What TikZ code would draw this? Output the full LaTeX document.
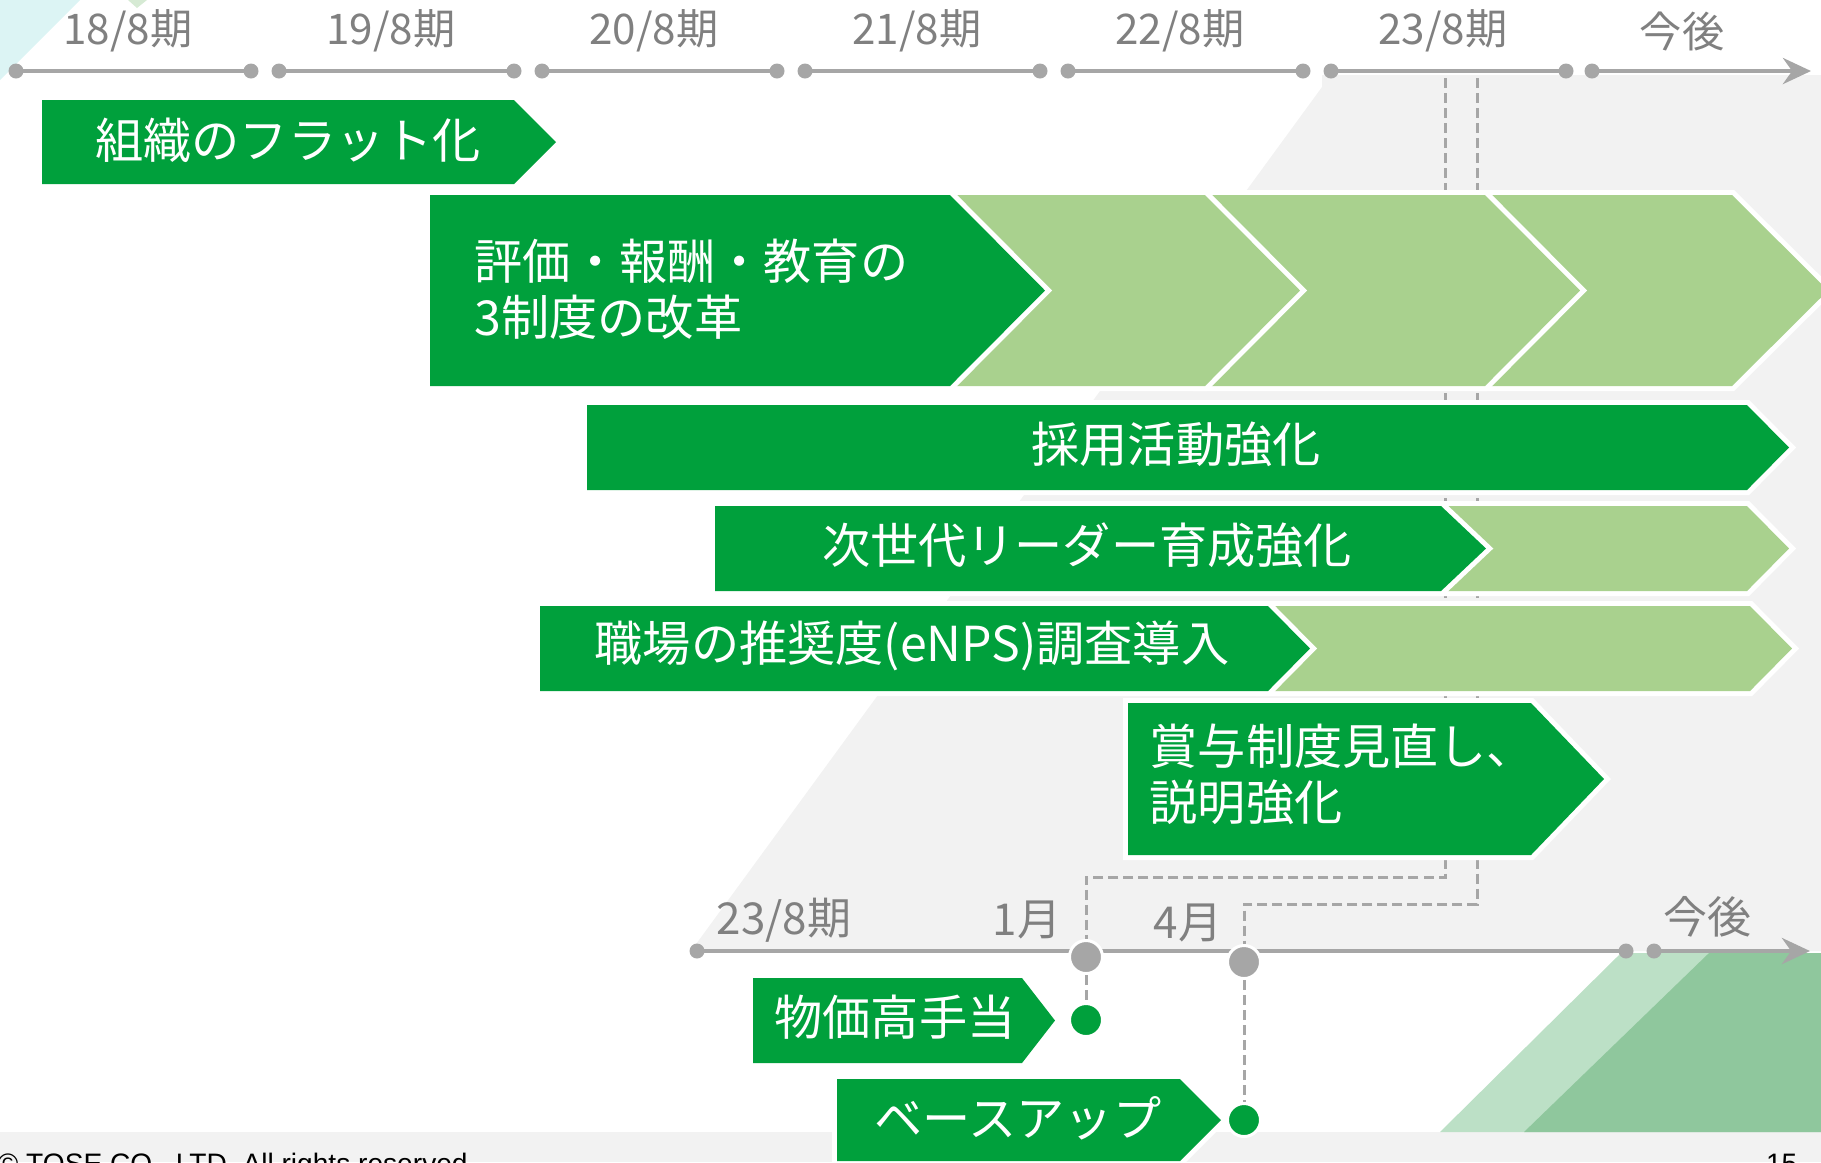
\documentclass[tikz,border=0pt]{standalone}
\usepackage{fontspec}
\setmainfont{Noto Sans CJK JP}
\newfontfamily\footfont{Liberation Sans}
\usepackage{tikz}
\usetikzlibrary{arrows.meta}

\definecolor{barGreen}{RGB}{0,160,60}
\definecolor{paleGreen}{RGB}{169,209,142}
\definecolor{bgGray}{RGB}{242,242,242}
\definecolor{lineGray}{RGB}{166,166,166}
\definecolor{textGray}{RGB}{128,128,128}
\definecolor{iceBlue}{RGB}{220,244,244}
\definecolor{mintGreen}{RGB}{188,224,198}
\definecolor{leafGreen}{RGB}{143,199,157}
\definecolor{sproutGreen}{RGB}{214,234,212}

\begin{document}
\begin{tikzpicture}[x=0.01cm,y=-0.01cm,
	dark bar/.style={fill=barGreen,preaction={draw=white,line width=0.1cm}},
	pale bar/.style={fill=paleGreen,preaction={draw=white,line width=0.1cm}},
	bar text/.style={text=white,font=\fontsize{13.7}{16}\selectfont,inner sep=0pt},
	axis line/.style={draw=lineGray,line width=0.045cm},
	axis label/.style={text=textGray,font=\fontsize{12}{14}\selectfont,inner sep=0pt},
	sub label/.style={text=textGray,font=\fontsize{12.5}{14}\selectfont,inner sep=0pt},
	guide line/.style={draw=lineGray,line width=0.03cm,dash pattern=on 0.1cm off 0.05cm},
	mile dot/.style={circle,fill=lineGray,draw=white,line width=0.03cm,minimum size=0.33cm,inner sep=0pt},
	end dot/.style={circle,fill=barGreen,draw=white,line width=0.03cm,minimum size=0.33cm,inner sep=0pt}]
	
	\useasboundingbox (0,0) rectangle (1821,1162);
	
	% background
	\fill[bgGray] (0,1132) rectangle (1821,1162);
	\fill[bgGray] (1322,75) -- (1821,75) -- (1821,951) -- (691,951) -- (1322,87) -- cycle;
	\fill[iceBlue] (0,0) -- (80,0) -- (0,80) -- cycle;
	\fill[sproutGreen] (128,0) -- (147,0) -- (137,8) -- cycle;
	\fill[mintGreen] (1621,953) -- (1821,953) -- (1821,1132) -- (1440,1132) -- cycle;
	\fill[leafGreen] (1709,953) -- (1821,953) -- (1821,1132) -- (1524,1132) -- cycle;
	
	% top time axis
	\foreach \i/\yr in {0/18,1/19,2/20,3/21,4/22,5/23}{
		\draw[axis line] (16+263*\i,71) -- (251+263*\i,71);
		\fill[lineGray] (16+263*\i,71) circle (7.5) (251+263*\i,71) circle (7.5);
		\node[axis label] (top\yr) at (128+263*\i,31) {\yr/8期};
	}
	\draw[axis line,-{Stealth[length=0.28cm,width=0.26cm]}] (1592,71) -- (1811,71);
	\fill[lineGray] (1592,71) circle (7.5);
	\node[axis label] (topnext) at (1682,31) {今後};
	
	% bottom time axis
	\draw[axis line] (697,951) -- (1626,951);
	\fill[lineGray] (697,951) circle (7.5) (1626,951) circle (7.5);
	\draw[axis line,-{Stealth[length=0.28cm,width=0.26cm]}] (1654,951) -- (1810,951);
	\fill[lineGray] (1654,951) circle (7.5);
	\node[sub label] (sub23) at (784,920) {23/8期};
	\node[sub label] (jan label) at (1027,920) {1月};
	\node[sub label] (apr label) at (1188,923) {4月};
	\node[sub label] (subnext) at (1707,917) {今後};
	
	\node[mile dot] (jan) at (1086,957) {};
	\node[mile dot] (apr) at (1244,962) {};
	\node[end dot] (allowance dot) at (1086,1020) {};
	\node[end dot] (baseup dot) at (1244,1120) {};
	
	% dashed guides from 23/8期
	\coordinate (split a) at (1445,78);
	\coordinate (split b) at (1477,78);
	\coordinate (bend a) at (1445,877);
	\coordinate (bend b) at (1477,904);
	\draw[guide line] (split a) -- (bend a) -| (jan);
	\draw[guide line] (split b) -- (bend b) -| (apr);
	\draw[guide line] (jan) -- (allowance dot);
	\draw[guide line] (apr) -- (baseup dot);
	
	% measures
	\path[dark bar] (42,100) -- (514,100) -- (556,142) -- (514,184) -- (42,184) -- cycle;
	\node[bar text] (flat) at (288,140) {組織のフラット化};
	
	\path[pale bar] (1485,195) -- (1732,195) -- (1828,290.5) -- (1732,386) -- (1485,386) -- (1580,290.5) -- cycle;
	\path[pale bar] (1205,195) -- (1485,195) -- (1580,290.5) -- (1485,386) -- (1205,386) -- (1300,290.5) -- cycle;
	\path[pale bar] (950,195) -- (1205,195) -- (1300,290.5) -- (1205,386) -- (950,386) -- (1045,290.5) -- cycle;
	\path[dark bar] (430,195) -- (950,195) -- (1045,290.5) -- (950,386) -- (430,386) -- cycle;
	\node[bar text,anchor=west,align=left] (reform) at (474,289) {評価・報酬・教育の\\3制度の改革};
	
	\path[dark bar] (587,405) -- (1747,405) -- (1789,447.5) -- (1747,490) -- (587,490) -- cycle;
	\node[bar text] (hiring) at (1176,444) {採用活動強化};
	
	\path[pale bar] (1441,506) -- (1747,506) -- (1789,548.5) -- (1747,591) -- (1441,591) -- (1486,548.5) -- cycle;
	\path[dark bar] (715,506) -- (1441,506) -- (1486,548.5) -- (1441,591) -- (715,591) -- cycle;
	\node[bar text] (leaders) at (1087,545) {次世代リーダー育成強化};
	
	\path[pale bar] (1268,606) -- (1750,606) -- (1792,648.5) -- (1750,691) -- (1268,691) -- (1310,648.5) -- cycle;
	\path[dark bar] (540,606) -- (1268,606) -- (1310,648.5) -- (1268,691) -- (540,691) -- cycle;
	\node[bar text] (enps) at (912,646) {職場の推奨度(eNPS)調査導入};
	
	\path[dark bar] (1128,703) -- (1531,703) -- (1604,779) -- (1531,855) -- (1128,855) -- cycle;
	\node[bar text,anchor=west,align=left] (bonus) at (1149,774) {賞与制度見直し、\\説明強化};
	
	\path[dark bar] (753,978) -- (1022,978) -- (1055,1020.5) -- (1022,1063) -- (753,1063) -- cycle;
	\node[bar text] (allowance) at (895,1017) {物価高手当};
	
	\path[dark bar] (837,1079) -- (1180,1079) -- (1221,1120) -- (1180,1161) -- (837,1161) -- cycle;
	\node[bar text] (baseup) at (1018,1118) {ベースアップ};
	
	% footer
	\node[font=\footfont\fontsize{8}{10}\selectfont,anchor=base west,inner sep=0pt] (copyright) at (-3,1173) {© TOSE CO., LTD. All rights reserved.};
	\node[font=\footfont\fontsize{8}{10}\selectfont,anchor=base east,inner sep=0pt] (page) at (1798,1173) {15};
\end{tikzpicture}
\end{document}
